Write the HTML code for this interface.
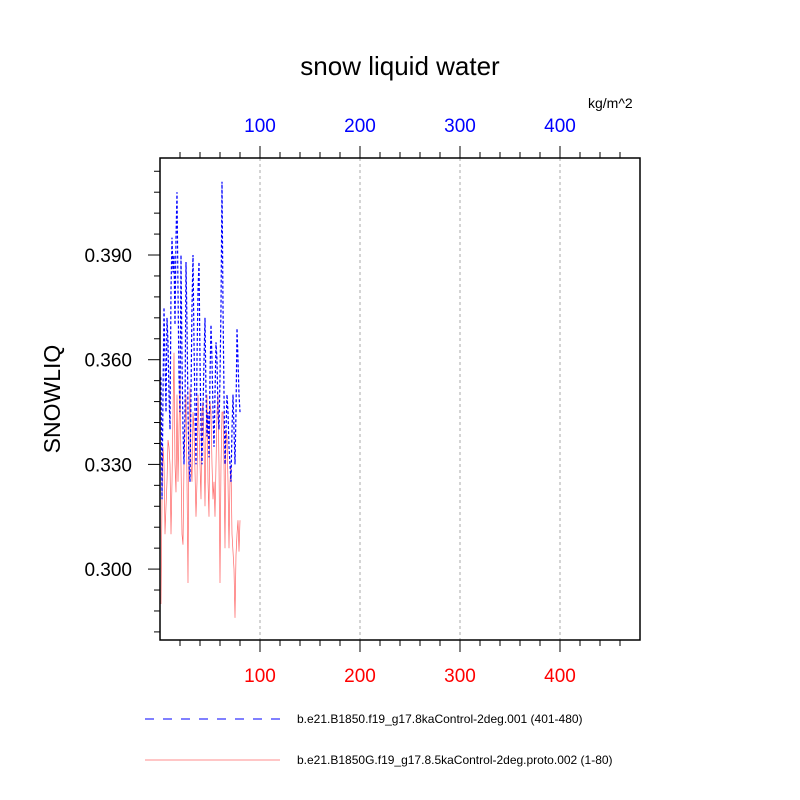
<!DOCTYPE html>
<html><head><meta charset="utf-8"><style>body{margin:0;background:#fff}svg{display:block;font-family:"Liberation Sans",sans-serif}</style></head>
<body>
<svg id="chart" width="800" height="800" viewBox="0 0 800 800">
<text x="400" y="75" font-size="26" text-anchor="middle">snow liquid water</text>
<text x="588" y="108" font-size="14">kg/m^2</text>
<text transform="translate(60,399) rotate(-90)" font-size="23" text-anchor="middle">SNOWLIQ</text>
<g id="grid"></g><g id="series"></g><g id="axes"></g>
<g>
<line x1="145" y1="719" x2="280" y2="719" stroke="#00f" stroke-dasharray="9,9"/>
<text x="297" y="723" font-size="12">b.e21.B1850.f19_g17.8kaControl-2deg.001 (401-480)</text>
<line x1="145" y1="760" x2="280" y2="760" stroke="#f66" stroke-width="0.7"/>
<text x="297" y="764" font-size="12">b.e21.B1850G.f19_g17.8.5kaControl-2deg.proto.002 (1-80)</text>
</g>
</svg>
<script>
const xTicks=[100,200,300,400];
const yTicks=[0.300,0.330,0.360,0.390];
const yTickLabels=["0.300","0.330","0.360","0.390"];
const blueValues=[0.355,0.320,0.350,0.375,0.360,0.345,0.372,0.365,0.350,0.340,0.380,0.395,0.385,0.390,0.370,0.395,0.408,0.380,0.355,0.345,0.390,0.360,0.340,0.330,0.345,0.388,0.370,0.345,0.330,0.325,0.350,0.375,0.390,0.365,0.345,0.330,0.360,0.380,0.388,0.360,0.340,0.330,0.345,0.360,0.372,0.350,0.338,0.345,0.332,0.355,0.370,0.360,0.345,0.335,0.350,0.365,0.360,0.345,0.340,0.355,0.375,0.411,0.375,0.350,0.330,0.340,0.350,0.345,0.335,0.330,0.325,0.340,0.350,0.340,0.330,0.345,0.369,0.360,0.350,0.345];
const redValues=[0.290,0.320,0.335,0.330,0.310,0.318,0.325,0.337,0.335,0.330,0.310,0.325,0.345,0.362,0.330,0.322,0.350,0.325,0.340,0.355,0.330,0.310,0.307,0.330,0.340,0.350,0.325,0.296,0.340,0.352,0.330,0.325,0.345,0.340,0.328,0.315,0.325,0.350,0.340,0.330,0.320,0.345,0.348,0.336,0.318,0.340,0.350,0.325,0.315,0.348,0.345,0.330,0.320,0.325,0.315,0.330,0.345,0.350,0.330,0.296,0.330,0.345,0.345,0.330,0.306,0.340,0.338,0.325,0.306,0.325,0.330,0.310,0.305,0.300,0.286,0.304,0.310,0.314,0.305,0.314];
const L=160,R=640,T=158,B=640,xMin=0,xMax=480,yMin=0.27968,yMax=0.41780;
const sx=v=>L+(v-xMin)/(xMax-xMin)*(R-L);
const sy=v=>B-(v-yMin)/(yMax-yMin)*(B-T);
const NS="http://www.w3.org/2000/svg";
function mk(tag,attrs,parent){const e=document.createElementNS(NS,tag);for(const k in attrs)e.setAttribute(k,attrs[k]);parent.appendChild(e);return e;}
const grid=document.getElementById('grid'),axes=document.getElementById('axes'),series=document.getElementById('series');
xTicks.forEach(v=>{const g=mk('line',{x1:sx(v),x2:sx(v),y1:T,y2:B,stroke:'#aaa','stroke-dasharray':'3,3'},grid);

});
function line(vals,color,w,dash,name){const pts=vals.map((v,i)=>sx(i+1).toFixed(1)+','+sy(v).toFixed(1)).join(' ');
const p=mk('polyline',{points:pts,fill:'none',stroke:color,'stroke-width':w},series);if(dash)p.setAttribute('stroke-dasharray',dash);

}
line(redValues,'#f66',0.7,null,'series-red');
line(blueValues,'#00f',1.2,'3,2','series-blue');
const f=mk('rect',{x:L,y:T,width:R-L,height:B-T,fill:'none',stroke:'#000','stroke-width':1.5},axes);


for(let v=20;v<480;v+=20){const maj=v%100===0,len=maj?12:6;
mk('line',{x1:sx(v),x2:sx(v),y1:B,y2:B+len,stroke:'#000'},axes);
mk('line',{x1:sx(v),x2:sx(v),y1:T,y2:T-len,stroke:'#000'},axes);}
for(let k=-3;k<=4;k++){for(let m=0;m<5;m++){const v=0.300+k*0.030+m*0.006;if(v<yMin||v>yMax)continue;const len=m===0?12:6;
mk('line',{x1:L,x2:L-len,y1:sy(v),y2:sy(v),stroke:'#000'},axes);}}
xTicks.forEach(v=>{const t=mk('text',{x:sx(v),y:B+42,'font-size':19,'text-anchor':'middle',fill:'#f00'},axes);t.textContent=v;


const u=mk('text',{x:sx(v),y:T-26,'font-size':19,'text-anchor':'middle',fill:'#00f'},axes);u.textContent=v;

});
yTicks.forEach((v,i)=>{const t=mk('text',{x:L-28,y:sy(v)+7,'font-size':19,'text-anchor':'end'},axes);t.textContent=yTickLabels[i];

});
</script>
</body></html>
